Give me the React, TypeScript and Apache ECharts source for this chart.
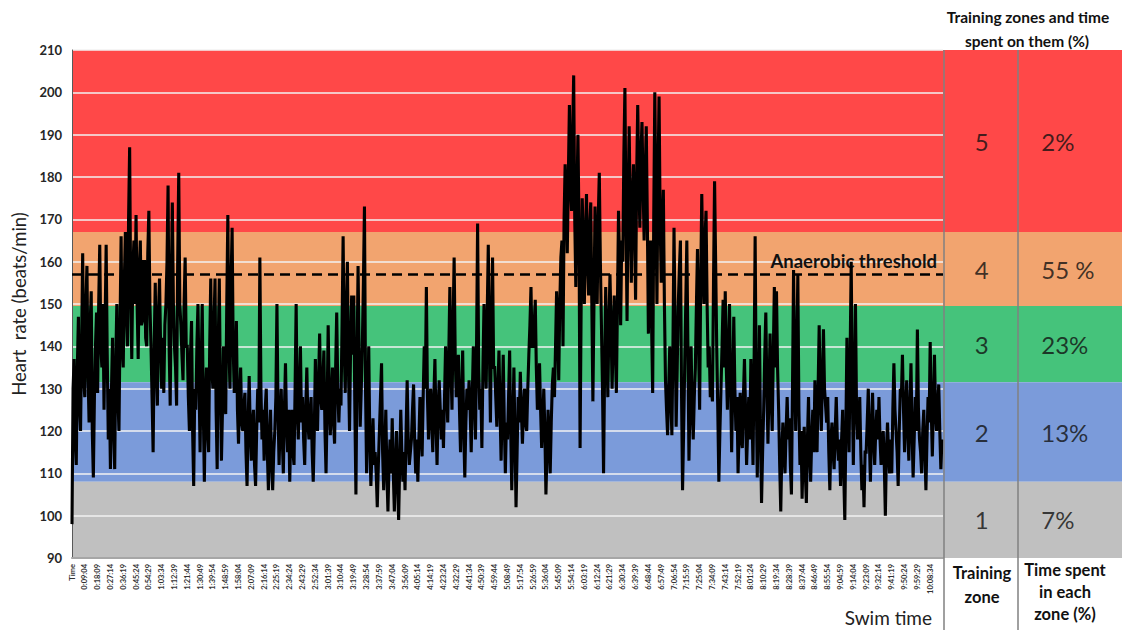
import React, { useEffect, useRef } from 'react';
import * as echarts from 'echarts';

const FONT = 'Lato, "Open Sans", "DejaVu Sans", sans-serif';

// x-axis tick labels (every 9 min 05 s of swim time)
const xLabels = ["Time","0:09:04","0:18:09","0:27:14","0:36:19","0:45:24","0:54:29","1:03:34","1:12:39","1:21:44","1:30:49","1:39:54","1:48:59","1:58:04","2:07:09","2:16:14","2:25:19","2:34:24","2:43:29","2:52:34","3:01:39","3:10:44","3:19:49","3:28:54","3:37:59","3:47:04","3:56:09","4:05:14","4:14:19","4:23:24","4:32:29","4:41:34","4:50:39","4:59:44","5:08:49","5:17:54","5:26:59","5:36:04","5:45:09","5:54:14","6:03:19","6:12:24","6:21:29","6:30:34","6:39:39","6:48:44","6:57:49","7:06:54","7:15:59","7:25:04","7:34:09","7:43:14","7:52:19","8:01:24","8:10:29","8:19:34","8:28:39","8:37:44","8:46:49","8:55:54","9:04:59","9:14:04","9:23:09","9:32:14","9:41:19","9:50:24","9:59:29","10:08:34"];

// heart rate (beats/min), 12 samples per tick interval (one row per tick)
const heartRate = [
  98,130,137,118,112,135,147,126,120,140,162,132,
  128,150,159,134,122,145,153,120,109,128,140,148,
  129,150,164,140,135,150,125,145,164,138,118,130,
  111,130,142,120,111,136,150,128,120,145,166,140,
  135,155,167,148,140,170,187,152,137,158,165,150,
  171,150,137,158,165,145,146,160,160,142,140,162,
  172,150,140,128,115,140,155,135,126,148,156,140,
  130,142,129,145,150,160,178,140,126,155,174,150,
  140,135,126,160,181,150,145,138,132,150,161,140,
  140,128,120,138,146,120,107,130,125,140,150,132,
  115,135,150,125,108,128,135,120,115,140,156,135,
  130,145,156,125,111,140,156,130,113,125,140,128,
  124,150,171,140,130,155,168,140,129,135,146,125,
  117,128,135,122,120,126,129,115,107,122,133,120,
  113,122,125,112,107,120,130,122,161,130,118,125,
  113,125,130,115,106,118,125,112,106,115,120,128,
  150,125,112,122,130,118,110,125,136,122,115,125,
  108,120,125,115,112,130,150,125,118,130,140,122,
  128,118,112,125,135,122,118,124,128,115,108,120,
  137,125,120,132,143,128,125,132,139,120,110,125,
  145,128,119,128,135,122,117,135,148,130,122,130,
  126,145,166,140,129,148,160,135,120,140,152,138,
  152,125,105,135,159,138,121,130,140,155,173,130,
  110,125,140,118,107,115,123,112,115,110,102,112,
  120,128,136,115,106,115,125,110,101,112,118,110,
  123,110,101,112,120,108,99,112,125,115,108,115,
  106,120,132,118,112,115,118,125,131,118,110,118,
  108,118,128,120,114,128,140,130,154,128,118,125,
  130,122,115,128,137,122,112,125,132,125,118,125,
  116,128,140,130,122,138,154,135,125,145,161,138,
  128,132,138,125,115,128,139,120,109,122,130,125,
  132,125,115,128,140,128,118,140,169,135,125,130,
  116,135,150,138,130,148,164,140,122,145,161,135,
  135,128,121,130,139,125,113,125,138,122,110,122,
  118,128,139,120,106,122,135,118,102,115,128,122,
  134,125,117,125,130,122,120,130,138,145,154,140,
  140,145,151,135,125,130,136,125,116,122,130,120,
  105,115,125,118,110,122,131,135,128,140,153,145,
  132,150,161,165,140,170,183,175,162,180,197,178,
  172,190,204,170,154,175,190,168,116,150,175,165,
  150,165,176,160,152,168,174,150,127,150,173,160,
  150,170,181,160,145,130,110,135,154,140,128,145,
  157,145,130,142,152,140,129,150,172,160,145,165,
  160,185,201,170,146,175,192,170,155,175,183,168,
  151,180,197,180,168,185,193,178,165,180,192,170,
  143,155,165,145,129,170,200,175,150,180,199,170,
  155,168,177,150,132,125,119,130,140,128,119,140,
  168,145,121,135,150,158,165,130,106,120,135,150,
  165,140,113,128,140,125,118,128,135,150,163,140,
  125,155,176,160,150,165,172,150,135,140,128,130,
  127,155,179,160,140,125,108,120,130,140,151,135,
  153,135,125,140,150,130,115,130,147,130,120,128,
  110,120,129,118,116,128,137,125,112,120,128,118,
  137,125,112,135,166,130,109,125,145,120,103,115,
  125,138,148,130,117,130,143,128,120,138,154,135,
  153,135,125,112,101,115,122,115,110,120,128,118,
  123,112,105,130,158,135,120,138,157,125,112,120,
  104,115,121,110,103,118,128,115,108,118,125,115,
  132,122,115,130,145,128,120,132,144,130,126,122,
  128,115,106,118,122,115,111,120,128,118,113,118,
  107,118,125,110,99,120,142,125,115,138,160,130,
  112,130,150,125,118,122,128,115,106,112,102,115,
  115,122,130,118,108,120,129,118,112,120,125,118,
  128,118,112,118,120,112,100,115,122,115,110,118,
  110,125,136,125,120,115,107,120,130,128,138,125,
  115,125,132,120,113,125,136,120,109,118,128,120,
  144,125,118,115,110,120,125,115,106,118,128,122,
  141,125,114,125,138,125,120,125,131,120,111,118
];
const samplesPerTick = 12;

const threshold = 157;
const zoneNames = ["5", "4", "3", "2", "1"];
const zoneTimePct = ["2%", "55 %", "23%", "13%", "7%"];
const zoneUpper = [210, 167, 149.5, 131.5, 108];
const zoneLower = [167, 149.5, 131.5, 108, 90];
const zoneColors = ["#FF4848", "#F2A46F", "#45C37B", "#7B9BDA", "#C0C0C0"];

const yMin = 90, yMax = 210, yStep = 10;

function buildOption(): any {
  const lineData = heartRate.map((v, i) => [i / samplesPerTick, v]);
  const bands = zoneUpper.map((u, i) => [
    { yAxis: zoneLower[i], itemStyle: { color: zoneColors[i], opacity: 1 } },
    { yAxis: u },
  ]);
  const mids = zoneUpper.map((u, i) => (u + zoneLower[i]) / 2);

  return {
    animation: false,
    backgroundColor: '#ffffff',
    textStyle: { fontFamily: FONT },
    grid: [
      { left: 72, right: 179, top: 50, bottom: 72, containLabel: false },
      { left: 943, right: 0, top: 50, bottom: 72, containLabel: false },
    ],
    xAxis: [
      {
        type: 'value', gridIndex: 0, min: 0, max: 68, interval: 1, z: 3,
        axisLine: { show: true, lineStyle: { color: '#A6A6A6', width: 2 } },
        axisTick: { show: false },
        splitLine: { show: false },
        axisLabel: {
          rotate: 90, margin: 6, fontSize: 7.5, fontWeight: 'bold', color: '#333', fontFamily: FONT,
          formatter: (v: number) => xLabels[Math.round(v)] ?? '',
        },
      },
      {
        type: 'category', gridIndex: 1, data: ['zone', 'time'], show: false,
      },
    ],
    yAxis: [
      {
        type: 'value', gridIndex: 0, min: yMin, max: yMax, interval: yStep, z: 3,
        name: 'Heart  rate (beats/min)', nameLocation: 'middle', nameGap: 43, nameRotate: 90,
        nameTextStyle: { fontSize: 18.5, color: '#222', fontFamily: FONT },
        axisLine: { show: true, lineStyle: { color: '#595959', width: 1 } },
        axisTick: { show: false },
        axisLabel: { fontSize: 13, fontWeight: 'bold', color: '#262626', margin: 10, fontFamily: FONT },
        splitLine: { show: true, lineStyle: { color: '#F2F2F2', width: 1.5 } },
      },
      {
        type: 'value', gridIndex: 1, min: yMin, max: yMax, show: false,
        splitLine: { show: false },
      },
    ],
    series: [
      {
        type: 'line', xAxisIndex: 0, yAxisIndex: 0, data: [], z: 0, silent: true,
        markArea: { silent: true, data: bands },
      },
      {
        type: 'line', xAxisIndex: 1, yAxisIndex: 1, data: [], z: 0, silent: true,
        markArea: { silent: true, data: bands },
      },
      {
        type: 'line', xAxisIndex: 0, yAxisIndex: 0, z: 5,
        data: lineData, showSymbol: false, symbol: 'none', sampling: undefined,
        lineStyle: { color: '#000000', width: 3.1, join: 'miter', miterLimit: 2 },
        markLine: {
          silent: true, symbol: 'none',
          lineStyle: { color: '#000', type: [10, 6], width: 2.5 },
          data: [{ yAxis: threshold }],
          label: {
            show: true, position: 'insideEndTop', formatter: 'Anaerobic threshold',
            fontSize: 18.5, fontWeight: 'bold', color: '#111', fontFamily: FONT, distance: [6, 4],
          },
        },
      },
      {
        type: 'scatter', xAxisIndex: 1, yAxisIndex: 1, symbolSize: 0, z: 6, silent: true,
        data: zoneNames.map((n, i) => ({ value: [0, mids[i]], name: n })),
        label: {
          show: true, position: 'inside', formatter: '{b}', fontSize: 24, color: '#111',
          fontFamily: FONT, offset: [-6, 0],
        },
      },
      {
        type: 'scatter', xAxisIndex: 1, yAxisIndex: 1, symbolSize: 0, z: 6, silent: true,
        data: zoneTimePct.map((p, i) => ({ value: [1, mids[i]], name: p })),
        label: {
          show: true, position: 'inside', formatter: '{b}', fontSize: 24, color: '#111',
          fontFamily: FONT, align: 'left', offset: [-36, 0],
        },
      },
    ],
    graphic: [
      { type: 'line', shape: { x1: 944, y1: 50, x2: 944, y2: 630 }, style: { stroke: '#808080', lineWidth: 1.5 }, z: 10 },
      { type: 'line', shape: { x1: 1018, y1: 50, x2: 1018, y2: 630 }, style: { stroke: '#808080', lineWidth: 1.5 }, z: 10 },
      { type: 'text', x: 1028, y: 17, style: { text: 'Training zones and time', font: `bold 15.5px ${FONT}`, fill: '#111', align: 'center', verticalAlign: 'middle' } },
      { type: 'text', x: 1027, y: 41, style: { text: 'spent on them (%)', font: `bold 15.5px ${FONT}`, fill: '#111', align: 'center', verticalAlign: 'middle' } },
      { type: 'text', x: 982, y: 573, style: { text: 'Training', font: `bold 16.5px ${FONT}`, fill: '#111', align: 'center', verticalAlign: 'middle' } },
      { type: 'text', x: 982, y: 597, style: { text: 'zone', font: `bold 16.5px ${FONT}`, fill: '#111', align: 'center', verticalAlign: 'middle' } },
      { type: 'text', x: 1065, y: 570, style: { text: 'Time spent', font: `bold 16.5px ${FONT}`, fill: '#111', align: 'center', verticalAlign: 'middle' } },
      { type: 'text', x: 1065, y: 592, style: { text: 'in each', font: `bold 16.5px ${FONT}`, fill: '#111', align: 'center', verticalAlign: 'middle' } },
      { type: 'text', x: 1065, y: 614, style: { text: 'zone (%)', font: `bold 16.5px ${FONT}`, fill: '#111', align: 'center', verticalAlign: 'middle' } },
      { type: 'text', x: 932, y: 617, style: { text: 'Swim time', font: `19px ${FONT}`, fill: '#222', align: 'right', verticalAlign: 'middle' } },
    ],
  };
}

export default function App() {
  const ref = useRef<HTMLDivElement>(null);
  useEffect(() => {
    if (!ref.current) return;
    const chart = echarts.init(ref.current, null, { renderer: 'svg' });
    chart.setOption(buildOption());
    return () => chart.dispose();
  }, []);
  return (
    <div
      ref={ref}
      style={{ width: 1122, height: 630, position: 'absolute', left: 0, top: 0, background: '#fff' }}
    />
  );
}
